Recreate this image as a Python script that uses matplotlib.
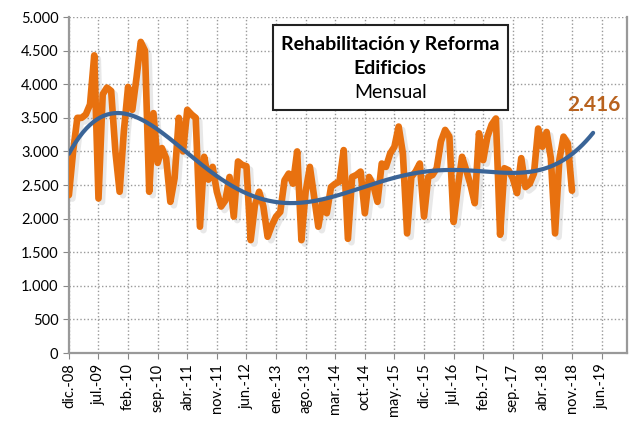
import numpy as np
import matplotlib
matplotlib.use("Agg")
import matplotlib.pyplot as plt
import matplotlib.patheffects as pe
from matplotlib.patches import Rectangle

plt.rcParams['font.family'] = ['Lato', 'DejaVu Sans']

# datos mensuales dic-08 ... nov-18
valores = [2350, 3000, 3500, 3500, 3550, 3700, 4430, 2300, 3850, 3950,
           3900, 3000, 2400, 3300, 3960, 3620, 4100, 4630, 4500, 2400,
           3570, 2830, 3050, 2900, 2250, 2600, 3500, 3000, 3620, 3550,
           3500, 1880, 2920, 2580, 2770, 2400, 2180, 2270, 2620, 2030,
           2850, 2800, 2780, 1680, 2200, 2400, 2180, 1730, 1900, 2030,
           2100, 2570, 2670, 2520, 3000, 1680, 2400, 2770, 2330, 1880,
           2250, 2080, 2470, 2520, 2550, 3020, 1700, 2620, 2650, 2700,
           2080, 2620, 2500, 2250, 2820, 2770, 2970, 3070, 3370, 2970,
           1780, 2620, 2700, 2820, 2030, 2620, 2650, 2750, 3150, 3320,
           3220, 1950, 2470, 2920, 2720, 2500, 2230, 3270, 2870, 3220,
           3400, 3490, 1760, 2750, 2720, 2600, 2380, 2900, 2470, 2520,
           2670, 3340, 3070, 3290, 2900, 1780, 2870, 3220, 3120, 2416]

# linea de tendencia (mes, valor)
tend_mes = [0, 7, 12, 14, 21, 28, 35, 42, 49, 56, 63, 70, 77, 84, 91, 98,
            105, 112, 119, 124]
tend_val = [2970, 3470, 3590, 3560, 3320, 2970, 2620, 2400, 2250, 2230, 2330,
            2480, 2620, 2690, 2720, 2710, 2670, 2750, 2950, 3280]

etiquetas = ['dic.-08', 'jul.-09', 'feb.-10', 'sep.-10', 'abr.-11', 'nov.-11',
             'jun.-12', 'ene.-13', 'ago.-13', 'mar.-14', 'oct.-14', 'may.-15',
             'dic.-15', 'jul.-16', 'feb.-17', 'sep.-17', 'abr.-18', 'nov.-18',
             'jun.-19']

naranja = '#E8710F'
azul = '#3A6497'

meses = np.arange(len(valores))
tend = np.polynomial.Polynomial.fit(tend_mes, tend_val, 7)
xt = np.linspace(0, tend_mes[-1], 300)

fig = plt.figure(figsize=(6.32, 4.21), dpi=100)
ax = fig.add_axes([0.109, 0.1615, 0.883, 0.798])

sombra = [pe.SimpleLineShadow(offset=(2.5, -2.5), shadow_color='#999999', alpha=0.22),
          pe.Normal()]
ax.plot(meses, valores, color=naranja, lw=4.8, solid_joinstyle='round',
        solid_capstyle='round', path_effects=sombra, zorder=3)
ax.plot(xt, tend(xt), color=azul, lw=3, solid_capstyle='round', zorder=4)

ax.set_xlim(0, 132)
ax.set_ylim(0, 5000)
ax.set_yticks(np.arange(0, 5001, 500))
ax.set_yticklabels([f'{v:,}'.replace(',', '.') for v in range(0, 5001, 500)])
ax.set_xticks(np.arange(0, 7 * len(etiquetas), 7))
ax.set_xticklabels(etiquetas, rotation=90)
ax.tick_params(labelsize=10.5, color='#888888', length=4)

ax.grid(True, color='#999999', linestyle=(0, (1, 1.6)), linewidth=1)
ax.set_axisbelow(True)
ax.spines['top'].set_visible(False)
for s in ['left', 'bottom', 'right']:
    ax.spines[s].set_color('#999999')
    ax.spines[s].set_linewidth(1.6)

# cuadro de titulo
ax.add_patch(Rectangle((0.366, 0.723), 0.421, 0.253, transform=ax.transAxes,
                       fc='white', ec='#222222', lw=1.5, zorder=5))
ax.text(0.576, 0.917, 'Rehabilitación y Reforma', transform=ax.transAxes,
        ha='center', va='center', fontsize=14, fontweight='bold', zorder=6)
ax.text(0.576, 0.848, 'Edificios', transform=ax.transAxes,
        ha='center', va='center', fontsize=14, fontweight='bold', zorder=6)
ax.text(0.576, 0.774, 'Mensual', transform=ax.transAxes,
        ha='center', va='center', fontsize=14, zorder=6)

ax.text(0.941, 0.738, '2.416', transform=ax.transAxes, ha='center', va='center',
        fontsize=15, fontweight='bold', color='#B8621E', zorder=6)

fig.savefig('out.png', dpi=100)
